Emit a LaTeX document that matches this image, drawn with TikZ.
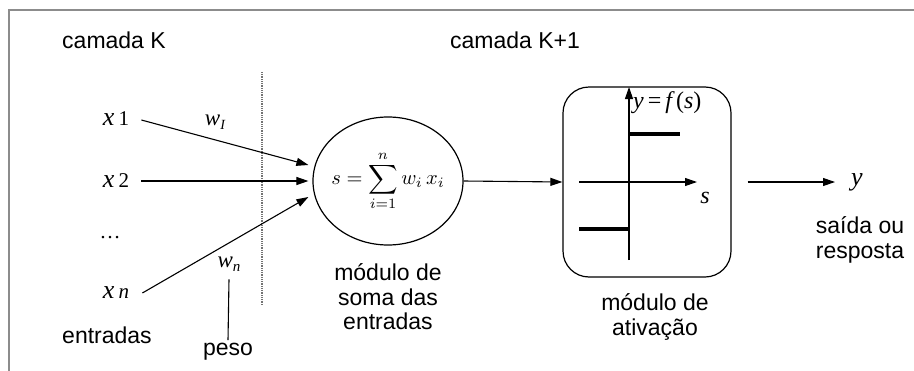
\documentclass[tikz,border=0pt]{standalone}
\usepackage{graphicx}
\usepackage[no-math]{fontspec}
\setmainfont{Liberation Sans}
\newfontfamily\serifface{Liberation Serif}
\usetikzlibrary{arrows.meta,shapes.geometric}

\begin{document}
\begin{tikzpicture}[x=1pt,y=-1pt,
  lab/.style={font=\fontsize{23}{24.5}\selectfont, inner sep=0pt},
  var/.style={font=\fontsize{26}{28}\selectfont\serifface, inner sep=0pt},
  wt/.style={font=\fontsize{23}{26}\selectfont\serifface\itshape, inner sep=0pt},
  link/.style={line width=1.1pt, -{Triangle[length=12pt,width=8pt]}},
  frame/.style={draw=black!45, line width=1.4pt},
  sep/.style={draw=black!55, line width=1.4pt, dash pattern=on 1pt off 0.8pt},
  stepbar/.style={line width=3.5pt}]
\useasboundingbox (0,0) rectangle (914,370);

% outer frame (open on the right and at the bottom)
\draw[frame] (9,372) -- (9,10) -- (916,10);

% layer titles
\node[lab] (lk)  at (114,40) {camada K};
\node[lab] (lk1) at (515,40) {camada K+1};

% layer separator
\draw[sep] (262,72) -- (262,305);

% inputs
\node[var] (x1) at (116,119) {\itshape x\upshape\,\fontsize{21}{24}\selectfont 1};
\node[var] (x2) at (116,181) {\itshape x\upshape\,\fontsize{21}{24}\selectfont 2};
\node[var] (xd) at (110,238) {\fontsize{21}{24}\selectfont\dots};
\node[var] (xn) at (116,293) {\itshape x\,\fontsize{21}{24}\selectfont n};
\node[lab] (inp) at (107,335) {entradas};

% summing module: fixed-size ellipse with the weighted sum inside
\node[draw, ellipse, line width=1.2pt, minimum width=150pt, minimum height=128pt, inner sep=0pt]
  (sum) at (388,181) {};
\node[inner sep=0pt] (formula) at (sum.center) {\scalebox{2.05}{$\displaystyle s=\sum_{i=1}^{n} w_i\,x_i$}};
\node[lab, align=center] (sumlab) at (388,297) {módulo de\\soma das\\entradas};

% weighted connections
\draw[link] ([xshift=12pt,yshift=-1pt]x1.east) -- ([xshift=-4pt,yshift=16pt]sum.west);
\draw[link] ([xshift=12pt]x2.east) -- ([xshift=-4pt]sum.west);
\draw[link] ([xshift=13pt]xn.east) -- ([xshift=-4pt,yshift=-16pt]sum.west);
\node[wt] (w1) at (215,122) {w\raisebox{-0.35ex}{\fontsize{14}{16}\selectfont I}};
\node[wt] (wn) at (229,264) {w\raisebox{-0.35ex}{\fontsize{15}{16}\selectfont n}};
\node[lab] (peso) at (228,352) {peso};
\draw[line width=1.1pt] ([yshift=-8pt]wn.south) -- ([yshift=3pt]peso.north);

% activation module
\node[draw, rounded corners=26pt, line width=1.2pt, minimum width=168pt, minimum height=190pt]
  (act) at (647,182) {};
\draw[link] (sum.east) -- (act.west);
\draw[line width=1.1pt, -{Triangle[length=12pt,width=8pt]}] (629,260) -- (629,87);
\draw[line width=1.1pt, -{Triangle[length=12pt,width=8pt]}] (579,182) -- (697,182);
\draw[stepbar] (629,134) -- (680,134);
\draw[stepbar] (579,229) -- (629,229);
\node[var, anchor=west] (fs) at (633,103) {\fontsize{24}{26}\selectfont\itshape y\,\upshape=\,\itshape f\,\upshape(\itshape s\upshape)};
\node[var] (sax) at (705,198) {\fontsize{24}{26}\selectfont\itshape s};
\node[lab, align=center] (actlab) at (655,317) {módulo de\\ativação};

% output
\node[var] (y) at (857,182) {\itshape y};
\draw[link] ([xshift=16pt]act.east) -- ([xshift=-16pt]y.west);
\node[lab, align=left] (ylab) at (860,240) {saída ou\\resposta};
\end{tikzpicture}
\end{document}
